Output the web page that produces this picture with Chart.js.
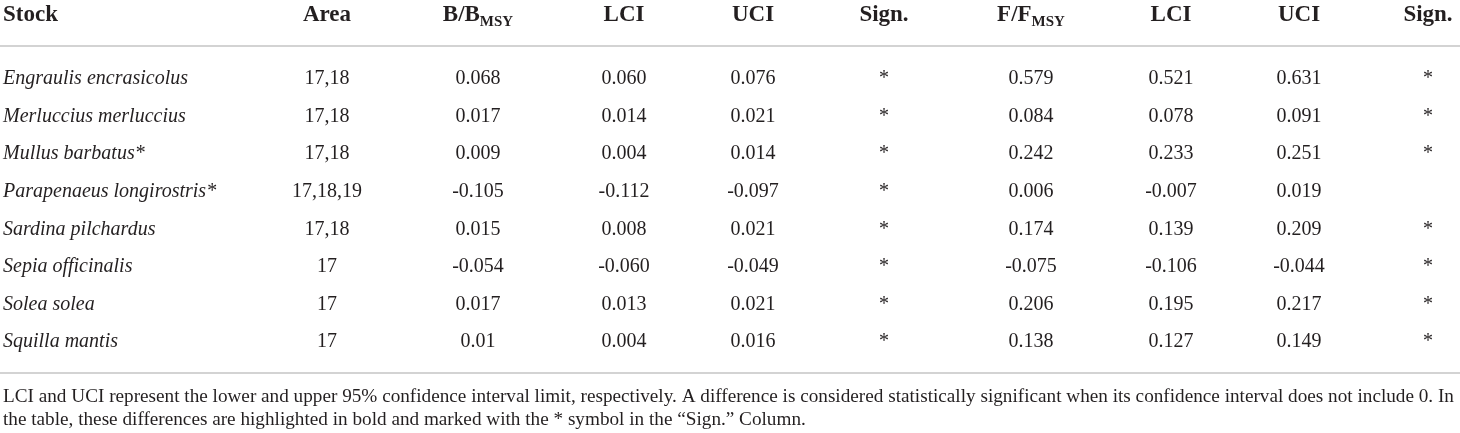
<!DOCTYPE html>
<html>
<head>
<meta charset="utf-8">
<script src="https://cdn.jsdelivr.net/npm/chart.js@4.4.1/dist/chart.umd.min.js"></script>
<style>
  html, body { margin: 0; padding: 0; background: #ffffff; }
  #wrap { width: 1460px; height: 433px; position: relative; }
</style>
</head>
<body>
<div id="wrap"><canvas id="c"></canvas></div>
<script>
// ---- data ----
const stocks = ["Engraulis encrasicolus", "Merluccius merluccius", "Mullus barbatus*", "Parapenaeus longirostris*",
                "Sardina pilchardus", "Sepia officinalis", "Solea solea", "Squilla mantis"];
const areas  = ["17,18", "17,18", "17,18", "17,18,19", "17,18", "17", "17", "17"];
const bRatio = ["0.068", "0.017", "0.009", "-0.105", "0.015", "-0.054", "0.017", "0.01"];
const bLCI   = ["0.060", "0.014", "0.004", "-0.112", "0.008", "-0.060", "0.013", "0.004"];
const bUCI   = ["0.076", "0.021", "0.014", "-0.097", "0.021", "-0.049", "0.021", "0.016"];
const bSign  = ["*", "*", "*", "*", "*", "*", "*", "*"];
const fRatio = ["0.579", "0.084", "0.242", "0.006", "0.174", "-0.075", "0.206", "0.138"];
const fLCI   = ["0.521", "0.078", "0.233", "-0.007", "0.139", "-0.106", "0.195", "0.127"];
const fUCI   = ["0.631", "0.091", "0.251", "0.019", "0.209", "-0.044", "0.217", "0.149"];
const fSign  = ["*", "*", "*", "", "*", "*", "*", "*"];
const headers = [["Stock", ""], ["Area", ""], ["B/B", "MSY"], ["LCI", ""], ["UCI", ""], ["Sign.", ""],
                 ["F/F", "MSY"], ["LCI", ""], ["UCI", ""], ["Sign.", ""]];
const footnoteLines = [
  "LCI and UCI represent the lower and upper 95% confidence interval limit, respectively. A difference is considered statistically significant when its confidence interval does not include 0. In",
  "the table, these differences are highlighted in bold and marked with the * symbol in the \u201cSign.\u201d Column."
];

// ---- layout (positions / styles) ----
const columns = [stocks, areas, bRatio, bLCI, bUCI, bSign, fRatio, fLCI, fUCI, fSign];
const colX     = [3, 327, 478, 624, 753, 884, 1031, 1171, 1299, 1428];
const colAlign = ["left", "center", "center", "center", "center", "center", "center", "center", "center", "center"];
const TEXT = "#231f20";
const RULE = "#c4c4c4";
const FONT = "'Liberation Serif', 'Times New Roman', serif";

const datasets = columns.map((col, j) => ({
  label: headers[j][0] + headers[j][1],
  data: col.map((v, i) => ({ x: colX[j], y: stocks[i], txt: v })),
  pointRadius: 0,
  pointHoverRadius: 0,
  showLine: false,
  textAlign: colAlign[j],
  italic: j === 0
}));

const tablePlugin = {
  id: 'tablePlugin',
  afterDatasetsDraw(chart) {
    const ctx = chart.ctx;
    const W = chart.width;
    ctx.save();
    // rules
    ctx.strokeStyle = RULE;
    ctx.lineWidth = 1.5;
    [46, 373].forEach(y => {
      ctx.beginPath(); ctx.moveTo(0, y); ctx.lineTo(W, y); ctx.stroke();
    });
    // header
    ctx.fillStyle = TEXT;
    ctx.textBaseline = 'alphabetic';
    headers.forEach((h, j) => {
      const mainFont = "bold 23px " + FONT;
      const subFont = "bold 15px " + FONT;
      ctx.font = mainFont;
      const w1 = ctx.measureText(h[0]).width;
      ctx.font = subFont;
      const w2 = h[1] ? ctx.measureText(h[1]).width : 0;
      const total = w1 + w2;
      let x0 = colAlign[j] === 'left' ? colX[j] : colX[j] - total / 2;
      ctx.textAlign = 'left';
      ctx.font = mainFont;
      ctx.fillText(h[0], x0, 21);
      if (h[1]) {
        ctx.font = subFont;
        ctx.fillText(h[1], x0 + w1, 26);
      }
    });
    // cells
    chart.data.datasets.forEach((ds, j) => {
      const meta = chart.getDatasetMeta(j);
      ctx.font = (ds.italic ? "italic " : "") + "20px " + FONT;
      ctx.textAlign = ds.textAlign;
      ctx.textBaseline = 'middle';
      meta.data.forEach((el, i) => {
        const t = ds.data[i].txt;
        if (t) ctx.fillText(t, el.x, el.y);
      });
    });
    // footnote
    ctx.textAlign = 'left';
    ctx.textBaseline = 'alphabetic';
    ctx.font = "20px " + FONT;
    const w = ctx.measureText(footnoteLines[0]).width;
    const fs = 20 * 1452 / w;
    ctx.font = fs.toFixed(2) + "px " + FONT;
    ctx.fillText(footnoteLines[0], 3, 402);
    ctx.fillText(footnoteLines[1], 3, 425);
    ctx.restore();
  }
};

new Chart(document.getElementById('c'), {
  type: 'scatter',
  data: { datasets },
  options: {
    responsive: true,
    maintainAspectRatio: false,
    animation: false,
    events: [],
    layout: { padding: { top: 60, bottom: 72, left: 0, right: 0 } },
    plugins: { legend: { display: false }, tooltip: { enabled: false } },
    scales: {
      x: { type: 'linear', min: 0, max: 1460, display: false },
      y: { type: 'category', labels: stocks, offset: true, display: false }
    }
  },
  plugins: [tablePlugin]
});
</script>
</body>
</html>
